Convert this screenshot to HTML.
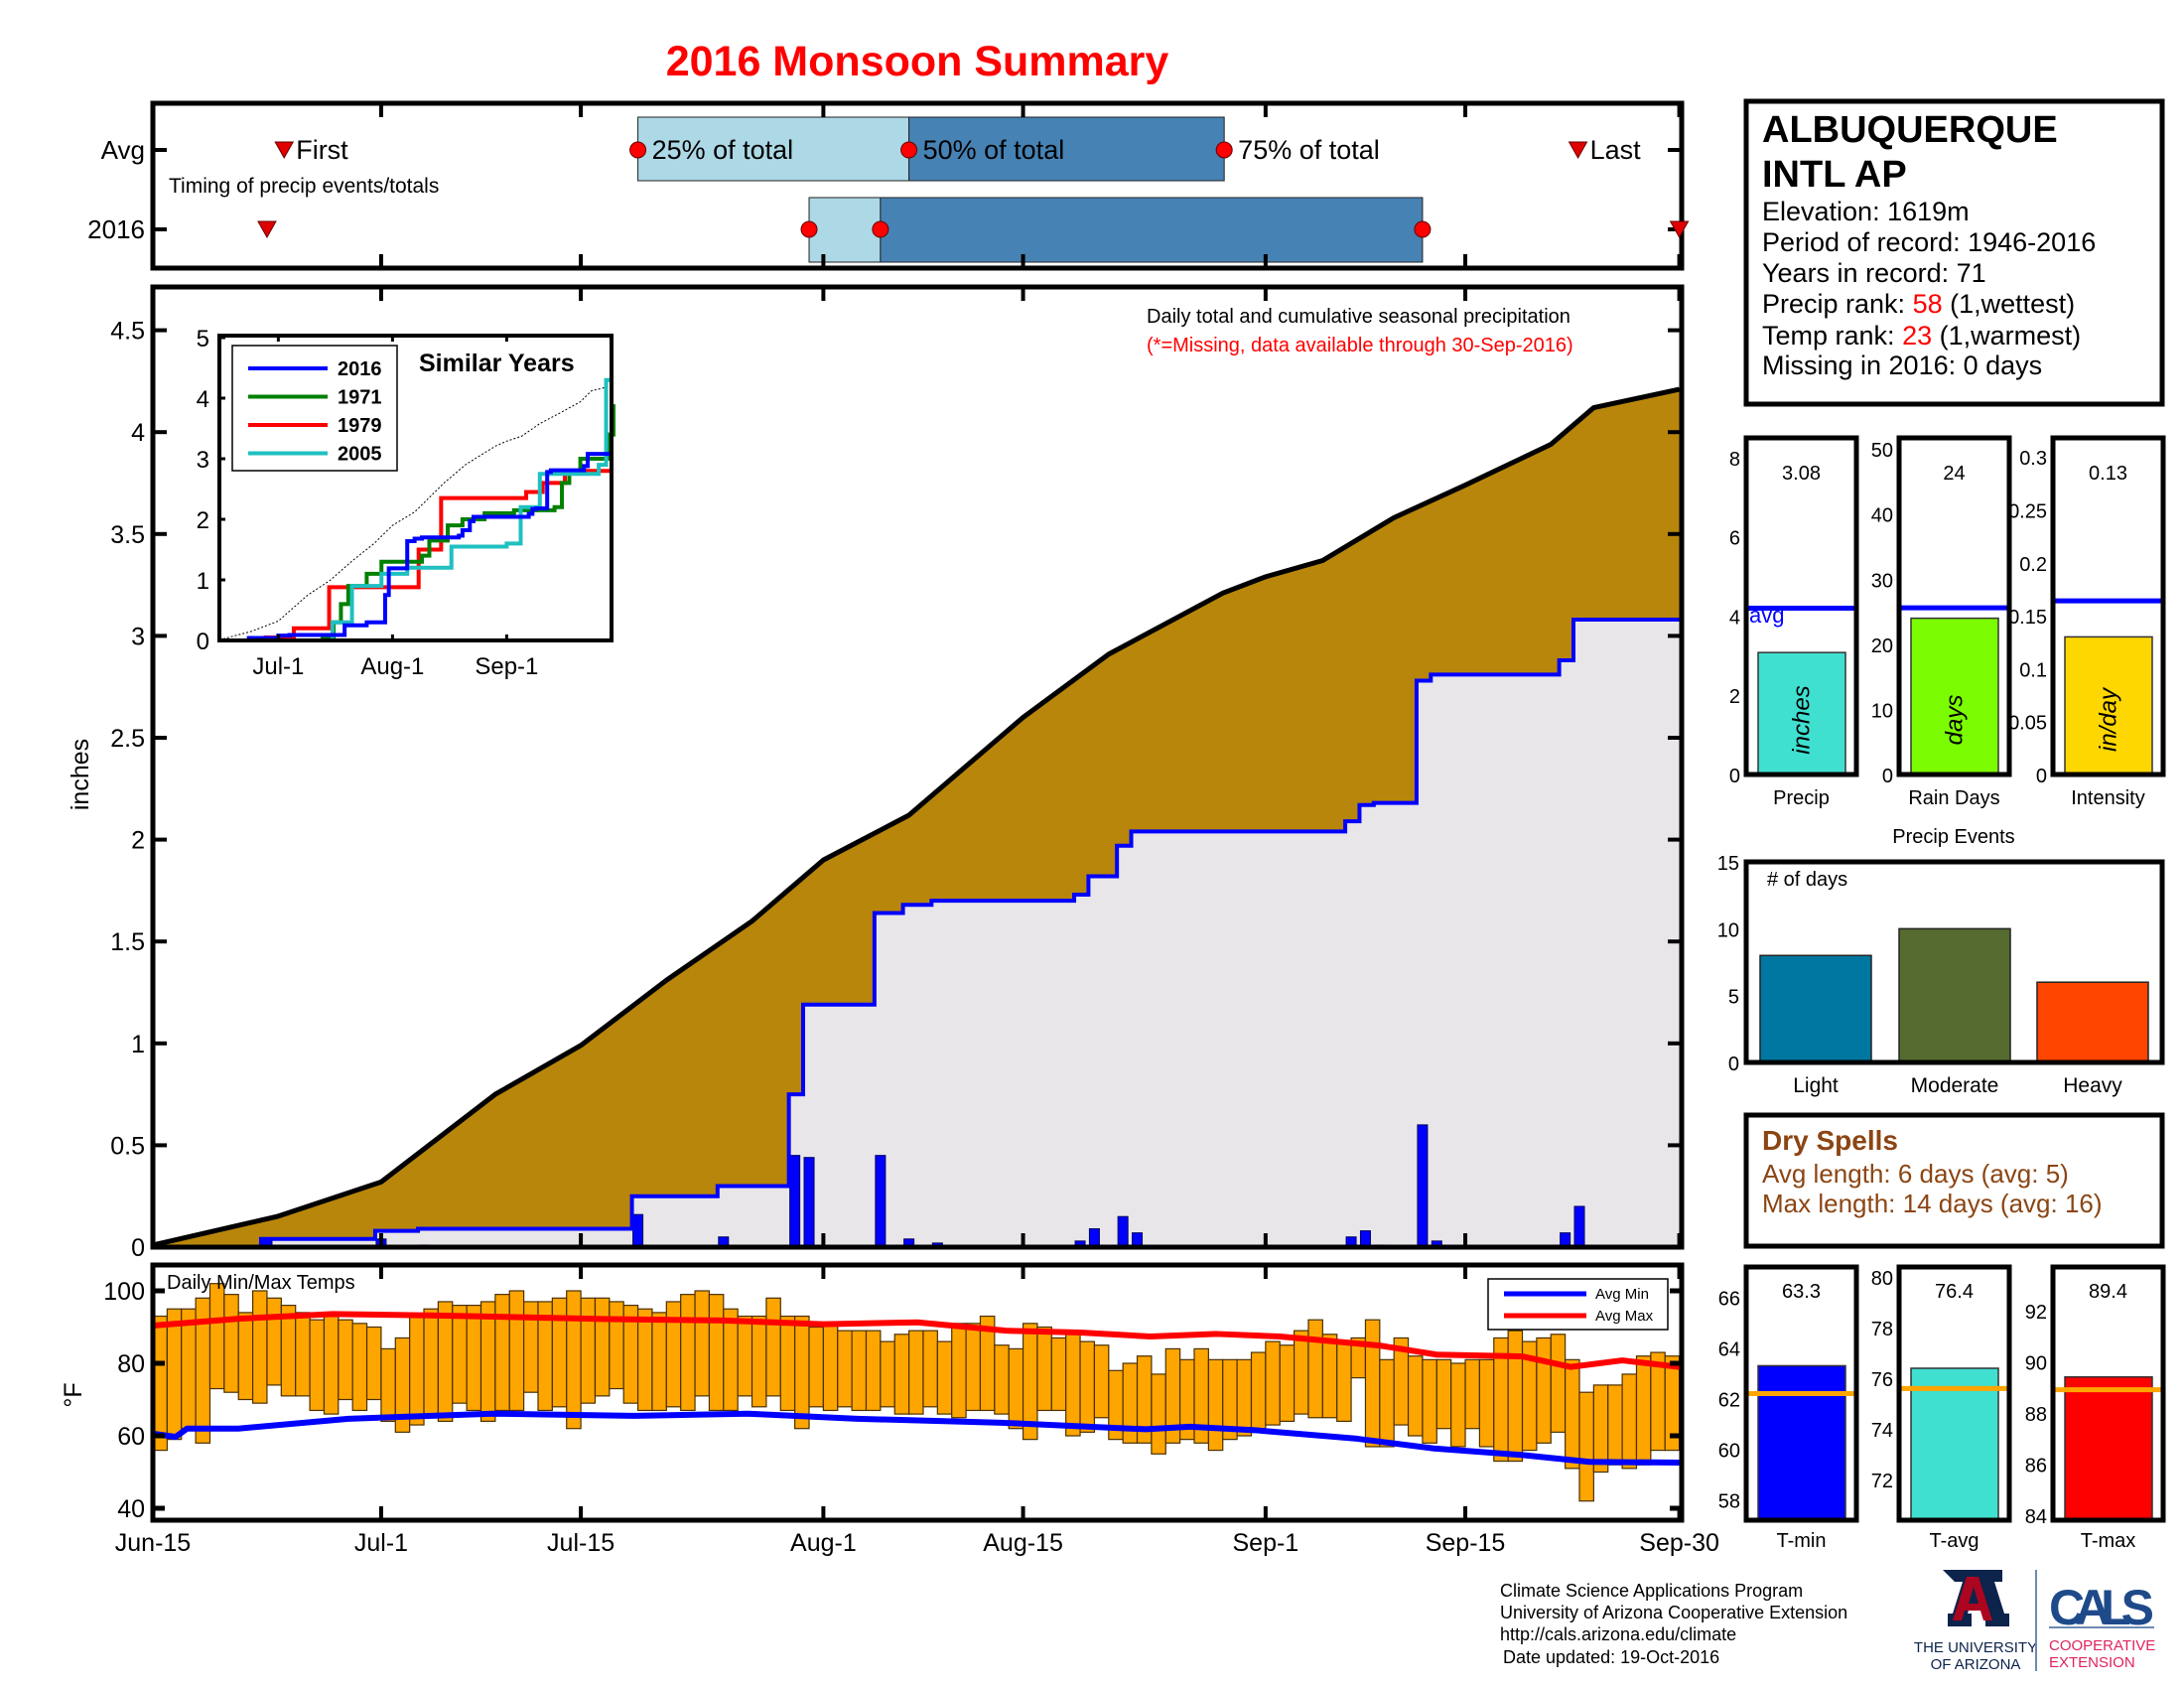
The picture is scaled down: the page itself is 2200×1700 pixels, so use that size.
<!DOCTYPE html>
<html><head><meta charset="utf-8"><title>2016 Monsoon Summary</title>
<style>
html,body{margin:0;padding:0;background:#fff;}
svg{display:block;font-family:"Liberation Sans",Arial,sans-serif;}
</style></head>
<body>
<svg id="fig" xmlns="http://www.w3.org/2000/svg" width="2200" height="1700" viewBox="0 0 2200 1700">
<rect x="0" y="0" width="2200" height="1700" fill="#fff"/>
<text x="924" y="76" font-size="43" font-weight="bold" fill="#ff0000" text-anchor="middle">2016 Monsoon Summary</text>

<g id="timing"></g>
<g id="main"></g>
<g id="inset"></g>
<g id="temp"></g>
<g id="right"></g>

<!-- info box -->
<g>
<rect x="1759" y="102" width="419" height="305" fill="#fff" stroke="#000" stroke-width="5"/>
<text x="1775" y="143" font-size="38" font-weight="bold">ALBUQUERQUE</text>
<text x="1775" y="188" font-size="38" font-weight="bold">INTL AP</text>
<text x="1775" y="222" font-size="27">Elevation: 1619m</text>
<text x="1775" y="253" font-size="27">Period of record: 1946-2016</text>
<text x="1775" y="284" font-size="27">Years in record: 71</text>
<text x="1775" y="315" font-size="27">Precip rank: <tspan fill="#ff0000">58</tspan> (1,wettest)</text>
<text x="1775" y="347" font-size="27">Temp rank: <tspan fill="#ff0000">23</tspan> (1,warmest)</text>
<text x="1775" y="377" font-size="27">Missing in 2016: 0 days</text>
</g>

<!-- dry spells -->
<g>
<rect x="1759" y="1123" width="419" height="132" fill="#fff" stroke="#000" stroke-width="5"/>
<text x="1775" y="1158" font-size="28" font-weight="bold" fill="#8b4513">Dry Spells</text>
<text x="1775" y="1191" font-size="26" fill="#8b4513">Avg length: 6 days (avg: 5)</text>
<text x="1775" y="1221" font-size="26" fill="#8b4513">Max length: 14 days (avg: 16)</text>
</g>

<!-- footer -->
<g font-size="18">
<text x="1511" y="1608">Climate Science Applications Program</text>
<text x="1511" y="1630">University of Arizona Cooperative Extension</text>
<text x="1511" y="1652">http://cals.arizona.edu/climate</text>
<text x="1514" y="1675">Date updated: 19-Oct-2016</text>
</g>
<g>
<path d="M1957 1581 h60 v12 h-6 l-2 0 l10 32 h5 v13 h-24 v-13 h4 l-2 -7 h-18 l-2 7 h4 v13 h-24 v-13 h5 l10 -32 h-2 h-6z" fill="#0c234b"/>
<path d="M1981 1588 h12 l14 44 h-9 l-3 -10 h-16 l-3 10 h-9z M1983 1615 h10 l-5 -17z" fill="#ab0520" fill-rule="evenodd"/>
<text x="1990" y="1664" font-size="15" fill="#0c234b" text-anchor="middle">THE UNIVERSITY</text>
<text x="1990" y="1681" font-size="15" fill="#0c234b" text-anchor="middle">OF ARIZONA</text>
<rect x="2050" y="1581" width="2" height="102" fill="#6d8ab3"/>
<text x="2064" y="1636" font-size="50" font-weight="bold" fill="#1e4a8a" textLength="106">CALS</text>
<rect x="2064" y="1638" width="106" height="2" fill="#6d8ab3"/>
<text x="2064" y="1662" font-size="15" fill="#e0245e">COOPERATIVE</text>
<text x="2064" y="1679" font-size="15" fill="#e0245e">EXTENSION</text>
</g>
</svg>

<script>
// ---------- data ----------
const xTickLabels = ["Jun-15","Jul-1","Jul-15","Aug-1","Aug-15","Sep-1","Sep-15","Sep-30"];
const xTickDays = [0,16,30,47,61,78,92,107];
const precipTicks = [0,0.5,1,1.5,2,2.5,3,3.5,4,4.5];
const avgCumDays = [0,8.7,16,24,30,36,42,47,53,61,67,75,78,82,87,92,98,101,107];
const avgCumVals = [0.01,0.15,0.32,0.75,0.99,1.31,1.6,1.9,2.12,2.6,2.91,3.21,3.29,3.37,3.58,3.74,3.94,4.12,4.21];
const rainDays = [8,16,19,34,40,45,46,51,53,55,65,66,68,69,84,85,86,89,90,99,100];
const rainAmts = [0.04,0.04,0.01,0.16,0.05,0.45,0.44,0.45,0.04,0.02,0.03,0.09,0.15,0.07,0.05,0.08,0.01,0.60,0.03,0.07,0.20];
const tmax = [93,95,95,98,102,99,94,100,98,96, 94,92,94,92,91,90,84,87,93,95, 97,96,96,97,99,100,97,97,98,100, 98,98,97,96,95,94,97,99,100,99, 95,93,93,98,93,93,90,91,89,89, 89,86,88,89,89,86,91,91,93,85, 84,91,90,87,88,86,85,78,80,82, 77,84,81,84,81,81,81,83,86,85, 89,92,88,86,87,92,81,87,82,81, 81,80,81,81,87,89,86,87,88,81, 72,74,74,77,82,83,82];
const tmin = [56,59,62,58,73,72,70,69,74,71, 71,67,66,70,67,70,64,61,63,66, 64,69,67,64,67,67,72,67,68,62, 69,71,73,69,67,67,68,67,71,67, 67,71,68,71,67,62,68,67,68,67, 67,68,66,66,68,66,65,67,67,66, 62,59,67,67,60,61,65,59,58,58, 55,58,59,58,56,59,60,62,63,64, 66,65,65,64,76,57,57,63,60,58, 62,57,62,57,53,53,56,58,61,51, 42,50,52,51,52,56,56];
const avgMaxDays = [0,6,12.6,20,32,40,47,53.6,59.8,65,69.9,74.6,79,86,90,96,99.4,103,107];
const avgMaxVals = [90.4,92.3,93.6,93.2,92.2,91.8,90.8,91.3,89,88.5,87.4,88.1,87.4,84.9,82.4,81.9,79,80.8,79];
const avgMinDays = [0,1.6,2.4,6,13.7,23.8,33.9,41.7,49.4,59.5,69.6,72.7,77.4,84.4,89.8,96,100.7,107];
const avgMinVals = [60.6,59.7,62,62,64.7,66.1,65.5,66.1,64.7,63.6,61.8,62.5,61.5,59.2,56.5,54.7,52.8,52.6];
const tempTicks = [40,60,80,100];
const timingAvgDays = [9.2,34,53,75.1,99.9];
const timing2016Days = [8,46,51,89,107];
const inset1971Days = [0,10,28,31,33,35,40,44,55,57,62,66,72,80,91,93,95,98,105,106,107];
const inset1971Vals = [0,0,0.05,0.3,0.6,0.9,1.1,1.3,1.4,1.65,1.9,2.0,2.1,2.15,2.2,2.6,2.8,3.0,3.0,3.4,3.9];
const inset1979Days = [0,12.6,20.2,29.8,54.1,60.2,83.3,87.8,93.8,107];
const inset1979Vals = [0,0.05,0.2,0.88,1.5,2.35,2.45,2.6,2.8,2.8];
const inset2005Days = [0,30.7,36,44,51,63,78,81.8,87,103,105,107];
const inset2005Vals = [0,0.3,0.9,1.1,1.2,1.55,1.6,2.2,2.75,2.9,4.3,4.3];
const insetTicks = [0,1,2,3,4,5];
const insetXLabels = ["Jul-1","Aug-1","Sep-1"];
const insetXDays = [16,47,78];
const statNames = ["Precip","Rain Days","Intensity"];
const statVals = [3.08,24,0.13];
const statAvgs = [4.2,25.6,0.164];
const statLabels = ["3.08","24","0.13"];
const statUnits = ["inches","days","in/day"];
const eventCats = ["Light","Moderate","Heavy"];
const eventVals = [8,10,6];
const tempStatNames = ["T-min","T-avg","T-max"];
const tempStatVals = [63.3,76.4,89.4];
const tempStatAvgs = [62.2,75.6,88.9];
const tempStatLabels = ["63.3","76.4","89.4"];

// ---------- helpers ----------
const NS = "http://www.w3.org/2000/svg";
function mk(tag, attrs, parent){ const e=document.createElementNS(NS,tag); for(const k in attrs) e.setAttribute(k,attrs[k]); parent.appendChild(e); return e; }
function txt(s, attrs, parent){ const e=mk("text",attrs,parent); e.textContent=s; return e; }
const X = d => 154 + d*14.37;
const PY = v => 1256 - v*205.2;
const TY = t => 1300 + (100-t)*3.65;
const IX = d => 221 + d*3.71;
const IY = v => 645 - v*61;
function cumSeries(){ const out=[]; let c=0; for(let i=0;i<rainDays.length;i++){ c+=rainAmts[i]; out.push(c);} return out; }
const cum2016 = cumSeries();

// ---------- timing panel ----------
(function(){
  const g=document.getElementById("timing");
  const top=104, bot=270, yA=151, y16=231;
  function boxes(days,y0,y1,nm){
    let r=mk("rect",{x:X(days[1]),y:y0,width:X(days[2])-X(days[1]),height:y1-y0,fill:"#add8e6",stroke:"#222","stroke-width":1},g);
    
    
    r=mk("rect",{x:X(days[2]),y:y0,width:X(days[3])-X(days[2]),height:y1-y0,fill:"#4682b4",stroke:"#222","stroke-width":1},g);
    
    
  }
  boxes(timingAvgDays,118,182,"avg");
  boxes(timing2016Days,199,264,"y2016");
  const fr=mk("rect",{x:154,y:top,width:1540,height:bot-top,fill:"none",stroke:"#000","stroke-width":5},g);
  
  
  xTickDays.forEach(d=>{ mk("line",{x1:X(d),x2:X(d),y1:top,y2:top+14,stroke:"#000","stroke-width":4},g); mk("line",{x1:X(d),x2:X(d),y1:bot,y2:bot-14,stroke:"#000","stroke-width":4},g); });
  [yA,y16].forEach(y=>{ mk("line",{x1:154,x2:168,y1:y,y2:y,stroke:"#000","stroke-width":4},g); mk("line",{x1:1694,x2:1680,y1:y,y2:y,stroke:"#000","stroke-width":4},g); });
  function tri(x,y,nm){ const p=mk("path",{d:`M${x-9} ${y-8} h18 l-9 16z`,fill:"#e00000",stroke:"#600",'stroke-width':1},g);
    
     }
  function dot(x,y,nm){ const c=mk("circle",{cx:x,cy:y,r:8,fill:"#ff0000",stroke:"#600","stroke-width":1},g);
    
     }
  tri(X(timingAvgDays[0]),yA,'avg-first-marker'); tri(X(timingAvgDays[4]),yA,'avg-last-marker');
  tri(X(timing2016Days[0]),y16,'y2016-first-marker'); tri(X(timing2016Days[4]),y16,'y2016-last-marker');
  [1,2,3].forEach(i=>{ dot(X(timingAvgDays[i]),yA,'avg-pct-marker'); dot(X(timing2016Days[i]),y16,'y2016-pct-marker'); });
  const fs=27;
  let t;
  t=txt("First",{x:X(timingAvgDays[0])+12,y:yA+9,"font-size":fs},g);  
  t=txt("Last",{x:X(timingAvgDays[4])+12,y:yA+9,"font-size":fs},g);  
  t=txt("25% of total",{x:X(timingAvgDays[1])+14,y:yA+9,"font-size":fs},g);  
  t=txt("50% of total",{x:X(timingAvgDays[2])+14,y:yA+9,"font-size":fs},g);  
  t=txt("75% of total",{x:X(timingAvgDays[3])+14,y:yA+9,"font-size":fs},g);  
  t=txt("Timing of precip events/totals",{x:170,y:194,"font-size":21},g);  
  t=txt("Avg",{x:146,y:yA+9,"font-size":26,"text-anchor":"end"},g);  
  t=txt("2016",{x:146,y:y16+9,"font-size":26,"text-anchor":"end"},g);  
})();

// ---------- main precip panel ----------
(function(){
  const g=document.getElementById("main");
  const top=289, bot=1256;
  let pts=avgCumDays.map((d,i)=>`${X(d)},${PY(avgCumVals[i])}`).join(" ");
  let p=mk("polygon",{points:`${X(0)},${bot} ${pts} ${X(107)},${bot}`,fill:"#b8860b"},g);
  
  
  let d=`M${X(0)} ${PY(0)}`;
  rainDays.forEach((day,i)=>{ d+=` H${X(day)-6} V${PY(cum2016[i])}`; });
  d+=` H${X(107)}`;
  p=mk("path",{d:d+` V${bot} H${X(0)}Z`,fill:"#e8e6e8"},g);
  
  
  rainDays.forEach((day,i)=>{
    const b=mk("rect",{x:X(day)-5,y:PY(rainAmts[i]),width:10,height:PY(0)-PY(rainAmts[i]),fill:"#0000ff",stroke:"#000060","stroke-width":1},g);
    
    
  });
  p=mk("path",{d:d,fill:"none",stroke:"#0000ff","stroke-width":4},g);
  
  
  p=mk("polyline",{points:pts,fill:"none",stroke:"#000","stroke-width":5,"stroke-linejoin":"round"},g);
  
  
  const fr=mk("rect",{x:154,y:top,width:1540,height:bot-top,fill:"none",stroke:"#000","stroke-width":5},g);
  
  
  xTickDays.forEach(dd=>{ mk("line",{x1:X(dd),x2:X(dd),y1:top,y2:top+14,stroke:"#000","stroke-width":4},g); mk("line",{x1:X(dd),x2:X(dd),y1:bot,y2:bot-14,stroke:"#000","stroke-width":4},g); });
  precipTicks.forEach(v=>{
    mk("line",{x1:154,x2:168,y1:PY(v),y2:PY(v),stroke:"#000","stroke-width":4},g);
    mk("line",{x1:1694,x2:1680,y1:PY(v),y2:PY(v),stroke:"#000","stroke-width":4},g);
    const t=txt(String(v),{x:146,y:PY(v)+9,"font-size":25,"text-anchor":"end"},g);
    
    
  });
  let t=txt("inches",{x:0,y:0,"font-size":25,"text-anchor":"middle",transform:"translate(89,780) rotate(-90)"},g);
   
  t=txt("Daily total and cumulative seasonal precipitation",{x:1155,y:325,"font-size":20},g);
   
  t=txt("(*=Missing, data available through 30-Sep-2016)",{x:1155,y:354,"font-size":20,fill:"#ff0000"},g);
   
})();

// ---------- inset ----------
(function(){
  const g=document.getElementById("inset");
  const L=221,T=338,R=616,B=645;
  mk("rect",{x:L,y:T,width:R-L,height:B-T,fill:"#fff"},g);
  let pts=avgCumDays.map((d,i)=>`${IX(d)},${IY(avgCumVals[i])}`).join(" ");
  let p=mk("polyline",{points:pts,fill:"none",stroke:"#000","stroke-width":1,"stroke-dasharray":"2,2"},g);
   
  function stepLine(days,vals,color,nm){
    let d=`M${IX(days[0])} ${IY(vals[0])}`;
    for(let i=1;i<days.length;i++){ d+=` H${IX(days[i])} V${IY(vals[i])}`; }
    const e=mk("path",{d:d,fill:"none",stroke:color,"stroke-width":4},g);
    
    
  }
  stepLine(inset1979Days,inset1979Vals,"#ff0000","inset-1979-line");
  stepLine(inset1971Days,inset1971Vals,"#008000","inset-1971-line");
  stepLine(inset2005Days,inset2005Vals,"#20c0c0","inset-2005-line");
  stepLine([0].concat(rainDays,[107]),[0].concat(cum2016,[cum2016[cum2016.length-1]]),"#0000ff","inset-2016-line");
  const fr=mk("rect",{x:L,y:T,width:R-L,height:B-T,fill:"none",stroke:"#000","stroke-width":4},g);
   
  insetTicks.forEach(v=>{
    mk("line",{x1:L,x2:L+6,y1:IY(v),y2:IY(v),stroke:"#000","stroke-width":3},g);
    const t=txt(String(v),{x:211,y:IY(v)+9,"font-size":24,"text-anchor":"end"},g);
     
  });
  insetXDays.forEach((d,i)=>{
    mk("line",{x1:IX(d),x2:IX(d),y1:B,y2:B-6,stroke:"#000","stroke-width":3},g);
    mk("line",{x1:IX(d),x2:IX(d),y1:T,y2:T+6,stroke:"#000","stroke-width":3},g);
    const t=txt(insetXLabels[i],{x:IX(d),y:679,"font-size":24,"text-anchor":"middle"},g);
     
  });
  let t=txt("Similar Years",{x:422,y:374,"font-size":25,"font-weight":"bold"},g);
   
  const lg=mk("rect",{x:234,y:348,width:166,height:126,fill:"#fff",stroke:"#000","stroke-width":1.5},g);
   
  const names=["2016","1971","1979","2005"], cols=["#0000ff","#008000","#ff0000","#20c0c0"];
  names.forEach((n,i)=>{
    const y=371+i*28.5;
    mk("line",{x1:250,x2:330,y1:y,y2:y,stroke:cols[i],"stroke-width":4},g);
    const tt=txt(n,{x:340,y:y+7,"font-size":20,"font-weight":"bold"},g);
     
  });
})();

// ---------- temperature panel ----------
(function(){
  const g=document.getElementById("temp");
  const top=1274, bot=1531;
  tmax.forEach((v,i)=>{
    const b=mk("rect",{x:X(i),y:TY(v),width:X(i+1)-X(i),height:TY(tmin[i])-TY(v),fill:"#ffa500",stroke:"#4a3000","stroke-width":1.2},g);
    
    
  });
  let p=mk("polyline",{points:avgMaxDays.map((d,i)=>`${X(d)},${TY(avgMaxVals[i])}`).join(" "),fill:"none",stroke:"#ff0000","stroke-width":6,"stroke-linejoin":"round"},g);
   
  p=mk("polyline",{points:avgMinDays.map((d,i)=>`${X(d)},${TY(avgMinVals[i])}`).join(" "),fill:"none",stroke:"#0000ff","stroke-width":6,"stroke-linejoin":"round"},g);
   
  const fr=mk("rect",{x:154,y:top,width:1540,height:bot-top,fill:"none",stroke:"#000","stroke-width":5},g);
   
  xTickDays.forEach((d,i)=>{
    mk("line",{x1:X(d),x2:X(d),y1:top,y2:top+14,stroke:"#000","stroke-width":4},g);
    mk("line",{x1:X(d),x2:X(d),y1:bot,y2:bot-14,stroke:"#000","stroke-width":4},g);
    const t=txt(xTickLabels[i],{x:X(d),y:1562,"font-size":25,"text-anchor":"middle"},g);
     
  });
  tempTicks.forEach(v=>{
    mk("line",{x1:154,x2:166,y1:TY(v),y2:TY(v),stroke:"#000","stroke-width":5},g);
    mk("line",{x1:1694,x2:1682,y1:TY(v),y2:TY(v),stroke:"#000","stroke-width":5},g);
    const t=txt(String(v),{x:146,y:TY(v)+9,"font-size":25,"text-anchor":"end"},g);
     
  });
  let t=txt("°F",{x:0,y:0,"font-size":25,"text-anchor":"middle",transform:"translate(82,1405) rotate(-90)"},g);
   
  t=txt("Daily Min/Max Temps",{x:168,y:1298,"font-size":20},g);
   
  const lg=mk("rect",{x:1499,y:1288,width:181,height:51,fill:"#fff",stroke:"#000","stroke-width":1.5},g);
   
  mk("line",{x1:1515,x2:1598,y1:1303,y2:1303,stroke:"#0000ff","stroke-width":5},g);
  mk("line",{x1:1515,x2:1598,y1:1325,y2:1325,stroke:"#ff0000","stroke-width":5},g);
  t=txt("Avg Min",{x:1607,y:1308,"font-size":15},g);  
  t=txt("Avg Max",{x:1607,y:1330,"font-size":15},g);  
})();

// ---------- right panels ----------
(function(){
  const g=document.getElementById("right");
  const panelX=[1759,1913,2068], pw=111;
  const sTop=441, sBot=780;
  const sMax=[8.5,51.7,0.318];
  const sTicks=[[0,2,4,6,8],[0,10,20,30,40,50],[0,0.05,0.1,0.15,0.2,0.25,0.3]];
  const sCols=["#40e0d0","#7cfc00","#ffd700"];
  for(let k=0;k<3;k++){
    const L=panelX[k];
    const sy=v=>sBot-(v/sMax[k])*(sBot-sTop);
    const b=mk("rect",{x:L+12,y:sy(statVals[k]),width:88,height:sBot-sy(statVals[k]),fill:sCols[k],stroke:"#333","stroke-width":1.5},g);
    
    
    const al=mk("line",{x1:L,x2:L+pw,y1:sy(statAvgs[k]),y2:sy(statAvgs[k]),stroke:"#0000ff","stroke-width":5},g);
    
    
    const fr=mk("rect",{x:L,y:sTop,width:pw,height:sBot-sTop,fill:"none",stroke:"#000","stroke-width":5},g);
    
    
    sTicks[k].forEach(v=>{
      const t=txt(String(v),{x:L-6,y:sy(v)+8,"font-size":20,"text-anchor":"end"},g);
      
      
    });
    let t=txt(statLabels[k],{x:L+pw/2,y:483,"font-size":20,"text-anchor":"middle"},g);
     
    t=txt(statNames[k],{x:L+pw/2,y:810,"font-size":20,"text-anchor":"middle"},g);
     
    t=txt(statUnits[k],{x:0,y:0,"font-size":24,"font-style":"italic","text-anchor":"middle",transform:`translate(${L+pw/2+8},725) rotate(-90)`},g);
     
  }
  let t=txt("avg",{x:1762,y:627,"font-size":22,fill:"#0000ff"},g);
   

  const eL=1759,eR=2178,eT=868,eB=1070;
  const ey=v=>eB-v*(eB-eT)/15;
  const eCols=["#0077a1","#556b2f","#ff4500"];
  const eX=[1773,1913,2052];
  eventVals.forEach((v,i)=>{
    const b=mk("rect",{x:eX[i],y:ey(v),width:112,height:eB-ey(v),fill:eCols[i],stroke:"#222","stroke-width":1.5},g);
    
    
    const tt=txt(eventCats[i],{x:eX[i]+56,y:1100,"font-size":21,"text-anchor":"middle"},g);
    
    
  });
  const ef=mk("rect",{x:eL,y:eT,width:eR-eL,height:eB-eT,fill:"none",stroke:"#000","stroke-width":5},g);
   
  [0,5,10,15].forEach(v=>{
    const tt=txt(String(v),{x:1752,y:ey(v)+8,"font-size":20,"text-anchor":"end"},g);
    
    
  });
  t=txt("Precip Events",{x:1968,y:849,"font-size":20,"text-anchor":"middle"},g);
   
  t=txt("# of days",{x:1780,y:892,"font-size":20},g);
   

  const tT=1276,tB=1531;
  const tMin=[57.2,70.4,83.8], tMaxR=[67.2,80.4,93.7];
  const tTicks=[[58,60,62,64,66],[72,74,76,78,80],[84,86,88,90,92]];
  const tCols=["#0000ff","#40e0d0","#ff0000"];
  for(let k=0;k<3;k++){
    const L=panelX[k];
    const ty=v=>tB-(v-tMin[k])/(tMaxR[k]-tMin[k])*(tB-tT);
    const b=mk("rect",{x:L+12,y:ty(tempStatVals[k]),width:88,height:tB-ty(tempStatVals[k]),fill:tCols[k],stroke:"#333","stroke-width":1.5},g);
    
    
    const al=mk("line",{x1:L,x2:L+pw,y1:ty(tempStatAvgs[k]),y2:ty(tempStatAvgs[k]),stroke:"#ffa500","stroke-width":5},g);
    
    
    const fr=mk("rect",{x:L,y:tT,width:pw,height:tB-tT,fill:"none",stroke:"#000","stroke-width":5},g);
    
    
    tTicks[k].forEach(v=>{
      const tt=txt(String(v),{x:L-6,y:ty(v)+8,"font-size":20,"text-anchor":"end"},g);
      
      
    });
    let tt=txt(tempStatLabels[k],{x:L+pw/2,y:1307,"font-size":20,"text-anchor":"middle"},g);
     
    tt=txt(tempStatNames[k],{x:L+pw/2,y:1558,"font-size":20,"text-anchor":"middle"},g);
     
  }
})();
</script>
</body></html>
